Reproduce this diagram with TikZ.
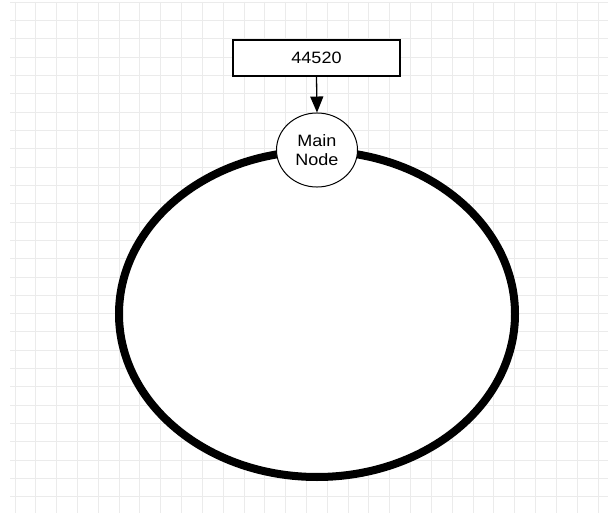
\documentclass[tikz,border=0pt]{standalone}
\usepackage{fontspec}
\setmainfont{Liberation Sans}
\usetikzlibrary{arrows.meta}

\begin{document}
\begin{tikzpicture}[x=1pt, y=1pt,
  gridline/.style={draw=black!8, line width=0.9pt},
  every node/.style={font=\fontsize{18}{20}\selectfont, yscale=0.914, transform shape}]
				% Canvas
				\useasboundingbox (0,0) rectangle (608,515);
				\fill[white] (0,0) rectangle (608,515);
				
				% Grid
				\foreach \k in {0,...,27}
				\draw[gridline] (10,{513-18.33*\k}) -- (608,{513-18.33*\k});
				\foreach \k in {0,...,28}
				\draw[gridline] ({15+20.82*\k},513) -- ({15+20.82*\k},2);
				
				% Ring
				\draw[fill=white, line width=8pt] (317,201) ellipse [x radius=198, y radius=163];
				
				% Value box
				\node[
				draw,
				fill=white,
				line width=1.2pt,
				minimum width=167pt,
				minimum height=39.4pt,
				inner sep=0pt
				] (value) at (316.5,457)
				{44520};
				
				% Main node
				\node[
				draw,
				circle,
				fill=white,
				line width=1pt,
				minimum size=81pt,
				align=center,
				inner sep=0pt
				] (main) at (317,365)
				{Main\\Node};
				
				% Link
				\draw[line width=1.3pt, -{Triangle[length=16pt, width=13pt]}] (value.south) -- (main.north);
			\end{tikzpicture}
\end{document}
